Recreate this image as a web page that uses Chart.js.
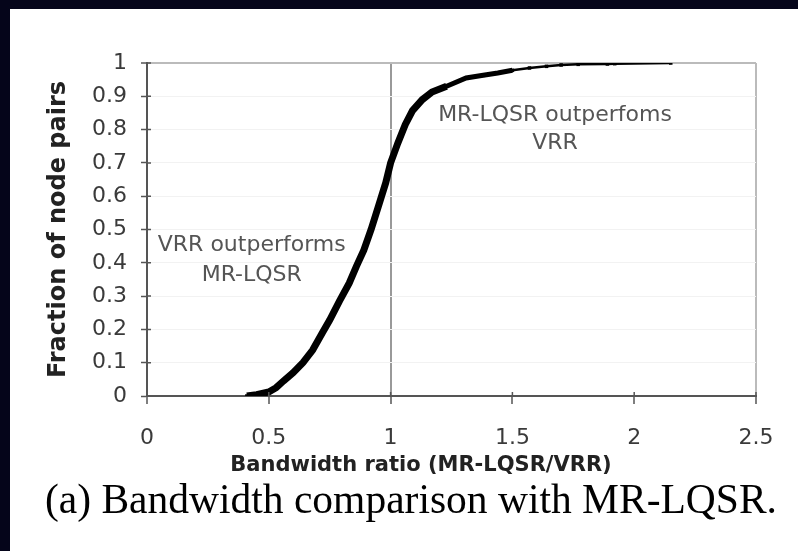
<!DOCTYPE html>
<html><head><meta charset="utf-8">
<script src="https://cdn.jsdelivr.net/npm/chart.js@4.4.1/dist/chart.umd.min.js"></script>
<style>
html,body{margin:0;padding:0;width:798px;height:551px;overflow:hidden;background:#05051a;}
#panel{position:absolute;left:10px;top:9px;width:788px;height:542px;background:#fff;}
#wrap{position:absolute;left:0;top:0;width:788px;height:542px;}
#caption{position:absolute;left:35px;top:466px;font-family:"Liberation Serif","Times New Roman",serif;font-size:41.5px;color:#000;white-space:nowrap;line-height:48px;}
</style></head><body>
<div id="panel"><div id="wrap"><canvas id="c" width="788" height="542"></canvas></div><div id="caption">(a) Bandwidth comparison with MR-LQSR.</div></div>
<script>
// Bandwidth ratio (MR-LQSR/VRR) values
const ratioValues = [0.41, 0.45, 0.50, 0.53, 0.56, 0.60, 0.64, 0.68, 0.72, 0.75, 0.79, 0.83, 0.86, 0.89, 0.92, 0.95, 0.98, 1.00, 1.03, 1.06, 1.09, 1.13, 1.17, 1.23, 1.31, 1.38, 1.44, 1.50, 1.57, 1.64, 1.70, 1.77, 1.89, 1.92, 2.15];
const fractionValues = [0.0, 0.004, 0.012, 0.025, 0.045, 0.07, 0.10, 0.138, 0.19, 0.228, 0.285, 0.339, 0.39, 0.438, 0.50, 0.57, 0.64, 0.70, 0.76, 0.815, 0.857, 0.89, 0.913, 0.93, 0.955, 0.963, 0.97, 0.978, 0.985, 0.99, 0.994, 0.996, 0.997, 0.998, 1.0];
const xTickLabels = ['0', '0.5', '1', '1.5', '2', '2.5'];
const yTickLabels = ['0', '0.1', '0.2', '0.3', '0.4', '0.5', '0.6', '0.7', '0.8', '0.9', '1'];
const xAxisTitle = 'Bandwidth ratio (MR-LQSR/VRR)';
const notes = [
  {x: 0.43, y: 0.453, text: 'VRR outperforms'},
  {x: 0.43, y: 0.363, text: 'MR-LQSR'},
  {x: 1.675, y: 0.844, text: 'MR-LQSR outperfoms'},
  {x: 1.675, y: 0.760, text: 'VRR'}
];

const notesPlugin = {
  id: 'notes',
  beforeDatasetsDraw(chart) {
    const {ctx, scales: {x, y}} = chart;
    ctx.save();
    ctx.font = '22px "DejaVu Sans"';
    ctx.fillStyle = '#555';
    ctx.textAlign = 'center';
    ctx.textBaseline = 'middle';
    notes.forEach(n => ctx.fillText(n.text, x.getPixelForValue(n.x), y.getPixelForValue(n.y)));
    ctx.restore();
  }
};
const innerTicks = {
  id: 'innerTicks',
  afterDraw(chart) {
    const {ctx, scales: {x, y}, chartArea: a} = chart;
    ctx.save();
    ctx.strokeStyle = '#555';
    ctx.lineWidth = 1.5;
    ctx.beginPath();
    y.ticks.forEach(t => { const p = y.getPixelForValue(t.value); ctx.moveTo(a.left, p); ctx.lineTo(a.left + 4, p); });
    x.ticks.forEach(t => { const p = x.getPixelForValue(t.value); ctx.moveTo(p, a.bottom); ctx.lineTo(p, a.bottom - 4); });
    ctx.stroke();
    // x-axis title, centred on the figure as in the original
    ctx.font = 'bold 21px "DejaVu Sans"';
    ctx.fillStyle = '#222';
    ctx.textAlign = 'center';
    ctx.textBaseline = 'middle';
    ctx.fillText(xAxisTitle, 411, 457);
    ctx.restore();
  }
};

new Chart(document.getElementById('c'), {
  type: 'scatter',
  data: {
    datasets: [{
      data: ratioValues.map((v, i) => ({x: v, y: fractionValues[i]})),
      showLine: true,
      borderColor: '#000',
      backgroundColor: '#000',
      borderWidth: 7,
      pointStyle: 'rect',
      pointRadius: 2.5,
      pointBorderWidth: 0,
      tension: 0,
      segment: {borderWidth: c => (c.p0.parsed.y >= 0.975 ? 2.5 : (c.p0.parsed.y >= 0.93 ? 5 : 7))}
    }]
  },
  options: {
    responsive: false,
    devicePixelRatio: 1,
    animation: false,
    layout: {padding: {top: 54, right: 42, left: 0, bottom: 65}},
    plugins: {legend: {display: false}, tooltip: {enabled: false}},
    scales: {
      x: {
        type: 'linear', min: 0, max: 2.5,
        ticks: {stepSize: 0.5, color: '#3a3a3a', font: {family: 'DejaVu Sans', size: 22}, padding: 21,
          callback: (v, i) => xTickLabels[i]},
        grid: {
          color: c => (c.tick && c.tick.value === 1 ? '#999' : (c.tick && c.tick.value === 2.5 ? '#bbb' : 'rgba(0,0,0,0)')),
          lineWidth: 2, tickLength: 8, tickColor: '#555', tickWidth: 1.5
        },
        border: {color: '#555', width: 2},
        title: {display: false, text: xAxisTitle},
        afterFit: s => { s.height = 90; }
      },
      y: {
        min: 0, max: 1,
        ticks: {stepSize: 0.1, color: '#3a3a3a', font: {family: 'DejaVu Sans', size: 22}, padding: 14,
          callback: (v, i) => yTickLabels[i]},
        grid: {
          color: c => (c.tick && c.tick.value === 1 ? '#bbb' : '#f2f2f2'),
          lineWidth: c => (c.tick && c.tick.value === 1 ? 2 : 1),
          tickLength: 6, tickColor: '#555', tickWidth: 1.5
        },
        border: {color: '#555', width: 2},
        title: {display: true, text: 'Fraction of node pairs', color: '#222',
          font: {family: 'DejaVu Sans', size: 24, weight: 'bold'}, padding: {top: 34, bottom: 0}},
        afterFit: s => { s.width = 137; }
      }
    }
  },
  plugins: [notesPlugin, innerTicks]
});
</script>
</body></html>
